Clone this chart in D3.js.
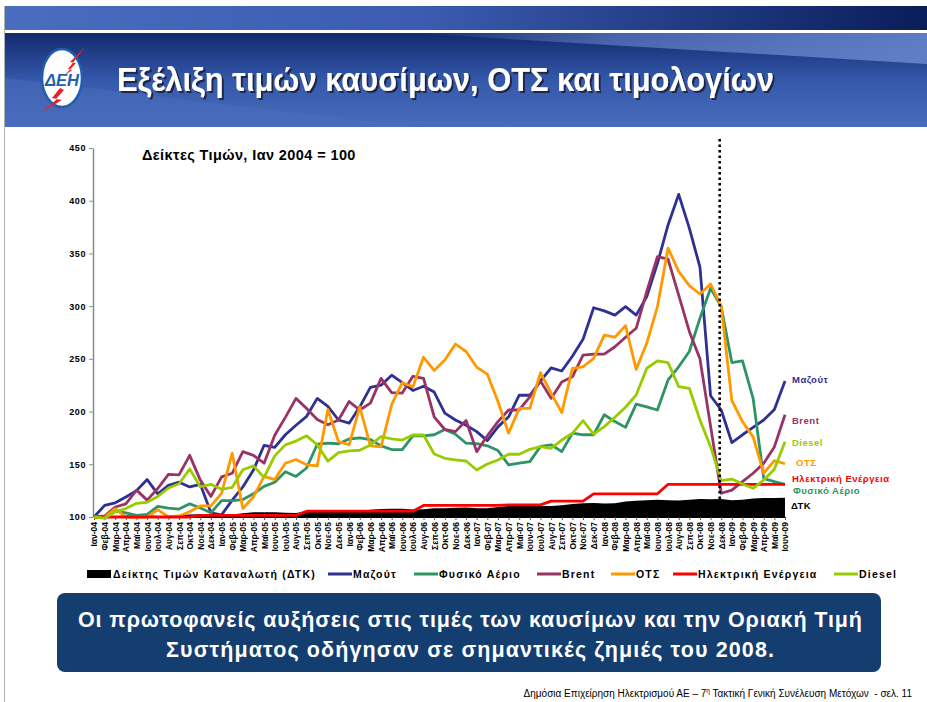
<!DOCTYPE html>
<html>
<head>
<meta charset="utf-8">
<script src="https://cdn.jsdelivr.net/npm/d3@7"></script>
<style>
    body { margin: 0; background: #fff; }
    svg { display: block; font-family: "Liberation Sans", Arial, sans-serif; }
</style>
</head>
<body>
<svg id="slide" width="927" height="702"></svg>
<script>
// month labels, Jan 2004 .. Jun 2009
const monthNames = ['Ιαν', 'Φεβ', 'Μαρ', 'Απρ', 'Μαϊ', 'Ιουν', 'Ιουλ', 'Αυγ', 'Σεπ', 'Οκτ', 'Νοε', 'Δεκ'];
const years = ['04', '05', '06', '07', '08', '09'];
const categories = years.flatMap(y => monthNames.map(m => `${m}-${y}`)).slice(0, 66);

const yTicks = [100, 150, 200, 250, 300, 350, 400, 450];

// price indices, Jan 2004 = 100
const cpi = [100, 100.2, 100.8, 101.5, 101.8, 101.6, 101, 101, 101.6, 102.4, 102.6, 102.8,
    102.3, 102.3, 103.6, 104.4, 104.6, 104.5, 104, 103.9, 105.1, 106, 106.1, 106.3,
    105.5, 105.6, 106.8, 107.7, 107.8, 107.9, 107.2, 107.3, 108.2, 108.4, 108.7, 109,
    108.3, 108.2, 109.4, 110.5, 110.8, 110.9, 110.5, 110.5, 111.1, 112.4, 113, 113.3,
    112.9, 113, 114.7, 115.4, 116, 116.3, 115.9, 115.7, 116.3, 117, 116.8, 117,
    115.8, 116.3, 117.5, 118.1, 118, 118.2];

const mazout = [100, 111, 113.5, 119, 125, 135.5, 122, 130, 133, 128.5, 131, 104,
    102, 116, 128.5, 144.5, 168, 166, 178, 187, 195.5, 212.5, 205, 192,
    189, 204.5, 223, 225, 234.5, 227.5, 220, 224, 218.5, 198.5, 192, 187,
    181, 172.5, 185.5, 195, 215.5, 215.5, 229, 241.5, 238.5, 252.5, 268.5, 298.5,
    295.5, 291.5, 299.5, 291.5, 309, 340.5, 377, 406, 374, 337, 215, 201.5,
    170.5, 178, 185, 192, 202, 229];

const gas = [100, 100, 105.5, 104, 101.5, 102.5, 110, 108.5, 107.5, 112.5, 108.5, 104,
    115.5, 115.5, 116.5, 122, 129, 133, 143, 138.5, 146.5, 169, 170, 169.5,
    174, 175, 173.5, 167.5, 164, 164, 177, 177, 178, 183, 178.5, 170,
    169.5, 167.5, 163, 149.5, 151, 152.5, 167, 168.5, 162, 179.5, 178, 178,
    197, 190.5, 185, 207, 204.5, 201.5, 230, 242.5, 257, 288.5, 317, 299.5,
    246.5, 248, 212.5, 136.5, 133.5, 131];

const brent = [100, 101, 109.5, 112.5, 125.5, 116, 127, 140.5, 140, 158.5, 135, 119.5,
    138, 141.5, 162, 158.5, 151, 177.5, 194.5, 212.5, 203, 192.5, 187.5, 192,
    209.5, 201.5, 208, 231.5, 218, 217.5, 233.5, 231.5, 195, 183, 181, 191.5,
    162, 177, 190.5, 201.5, 201.5, 214, 229, 212.5, 228, 233, 253.5, 254.5,
    254.5, 261.5, 270.5, 279, 314, 347, 344.5, 310.5, 276, 250, 186, 122.5,
    125.5, 133.5, 141.5, 151, 166.5, 197];

const ots = [100, 100, 108, 100, 100, 100, 107, 100, 101, 105, 110.5, 110.5,
    122.5, 160.5, 108, 119, 138.5, 135.5, 151, 154.5, 149.5, 148.5, 202, 171.5,
    168.5, 204.5, 167.5, 166.5, 206.5, 227.5, 223.5, 251.5, 239, 249, 264, 257,
    242, 235.5, 209.5, 179.5, 203, 203, 237, 217.5, 199, 241, 242.5, 250.5,
    272.5, 270.5, 281.5, 240, 265, 299.5, 355, 333, 319.5, 311.5, 321, 300,
    210.5, 190.5, 176, 141.5, 153.5, 150.5];

const electricity = [100, 100, 100, 100, 100, 100, 100, 100, 100, 100, 101.5, 101.5,
    101.5, 101.5, 101.5, 101.5, 101.5, 101.5, 101.5, 101.5, 105.5, 105.5, 105.5, 105.5,
    105.5, 105.5, 105.5, 105.5, 105.5, 105.5, 105.5, 111, 111, 111, 111, 111,
    111, 111, 111, 111.5, 111.5, 111.5, 111.5, 115, 115, 115, 115, 122,
    122, 122, 122, 122, 122, 122, 131, 131, 131, 131, 131, 131,
    131, 131, 131, 131, 131, 131];

const diesel = [100, 99, 105, 108, 113, 114, 119.5, 127.5, 131.5, 145.5, 128.7, 131,
    126.3, 128, 144.8, 148.5, 137.5, 158, 168.4, 172, 177, 168.5, 153, 161,
    162.7, 163.3, 168.4, 176.3, 174.2, 173, 177.8, 177.8, 159.8, 155.7, 154.1, 153.1,
    144.6, 150.3, 154.1, 159.5, 159.5, 164.2, 166.7, 165.2, 173, 179.4, 191.4, 178.7,
    185.7, 194.6, 204.1, 215.7, 241.1, 248, 246.4, 223.6, 222.1, 192, 166.7, 134.5,
    136, 131.3, 127.2, 135.1, 145.3, 171.4];

const seriesNames = ['Μαζούτ', 'Φυσικό Αέριο', 'Brent', 'ΟΤΣ', 'Ηλεκτρική Ενέργεια', 'Diesel'];
const seriesValues = [mazout, gas, brent, ots, electricity, diesel];
const seriesColors = ['#2e3192', '#2e9466', '#993366', '#ff9900', '#ff0000', '#99cc00'];

// end-of-line labels: text, colour, value where the label sits
const endLabels = [
    ['Μαζούτ', '#2e3192', 229.8, 0],
    ['Brent', '#993366', 191, 0],
    ['Diesel', '#99cc00', 170.5, 0],
    ['ΟΤΣ', '#ff9900', 151.5, 4],
    ['Ηλεκτρική Ενέργεια', '#ff0000', 136.7, 0],
    ['Φυσικό Αέριο', '#2e9466', 125, 1],
    ['ΔΤΚ', '#000000', 110.7, -1]
];

const svg = d3.select('#slide');
const defs = svg.append('defs');

function gradient(id, stops, horizontal) {
    const g = defs.append('linearGradient').attr('id', id)
        .attr('x1', 0).attr('y1', 0)
        .attr('x2', horizontal ? 1 : 0).attr('y2', horizontal ? 0 : 1);
    stops.forEach(s => g.append('stop').attr('offset', s[0]).attr('stop-color', s[1])
        .attr('stop-opacity', s[2] === undefined ? 1 : s[2]));
}

gradient('topBand', [[0, '#4a6dc0'], [0.45, '#3b5cb0'], [1, '#0a1d5a']], true);
gradient('header', [[0, '#122a6e'], [0.5, '#3458aa'], [1, '#4a6cbc']], false);
gradient('wedge', [[0, '#7a98d8', 0], [0.4, '#6b8ad0', 0.6], [1, '#6585cc', 0.9]], true);

defs.append('filter').attr('id', 'shadow')
    .attr('x', '-5%').attr('y', '-20%').attr('width', '110%').attr('height', '150%')
    .append('feDropShadow')
    .attr('dx', 2).attr('dy', 2).attr('stdDeviation', 0.6)
    .attr('flood-color', '#1a1a2a').attr('flood-opacity', 0.8);

// ---- slide frame and header ----
svg.append('rect').attr('x', 5).attr('y', 6).attr('width', 922).attr('height', 24)
    .attr('fill', 'url(#topBand)');
svg.append('rect').attr('x', 5).attr('y', 33).attr('width', 922).attr('height', 94)
    .attr('fill', 'url(#header)');
svg.append('path').attr('d', 'M410,33 L927,33 L927,64 Z').attr('fill', 'url(#wedge)');
svg.append('path').attr('d', 'M5,78 L5,127 L420,127 Z').attr('fill', '#4b6dbe').attr('opacity', 0.5);
svg.append('line').attr('x1', 4.5).attr('x2', 4.5).attr('y1', 6).attr('y2', 702)
    .attr('stroke', '#b0b0b0').attr('stroke-width', 1);

// logo
const logo = svg.append('g');
logo.append('ellipse').attr('cx', 62).attr('cy', 78).attr('rx', 20).attr('ry', 29)
    .attr('fill', '#fff').attr('stroke', '#1f5fb0').attr('stroke-width', 2.5);
logo.append('path')
    .attr('d', 'M86,46 L70,62 L76,63 L64,76 L72,70 L68,69 Z M60,88 L52,98 L57,99 L42,112 L62,100 L56,99 L64,90 Z')
    .attr('fill', '#e8202a');
logo.append('text').attr('x', 62).attr('y', 86).attr('text-anchor', 'middle')
    .attr('font-size', 17).attr('font-weight', 'bold').attr('font-style', 'italic')
    .attr('fill', '#1f5fb0').attr('textLength', 34).attr('lengthAdjust', 'spacingAndGlyphs')
    .text('ΔΕΗ');

svg.append('text').attr('x', 117).attr('y', 91)
    .attr('font-size', 34).attr('font-weight', 'bold')
    .attr('fill', '#fff').attr('filter', 'url(#shadow)')
    .attr('textLength', 657).attr('lengthAdjust', 'spacingAndGlyphs')
    .text('Εξέλιξη τιμών καυσίμων, ΟΤΣ και τιμολογίων');

// ---- chart ----
const x = d3.scalePoint().domain(categories).range([94, 785]);
const y = d3.scaleLinear().domain([100, 450]).range([517, 148]);

const chart = svg.append('g');

chart.append('path')
    .datum(cpi)
    .attr('fill', '#000')
    .attr('d', d3.area()
        .x((d, i) => x(categories[i]))
        .y0(y(100))
        .y1(d => y(d)));

const yAxis = chart.append('g')
    .attr('transform', 'translate(93,0)')
    .call(d3.axisLeft(y).tickValues(yTicks).tickSize(4).tickPadding(3).tickSizeOuter(0));
yAxis.select('.domain').attr('stroke', '#8c8c8c').attr('stroke-width', 1.5);
yAxis.selectAll('.tick line').attr('stroke', '#8c8c8c');
yAxis.selectAll('text')
    .attr('font-size', 9).attr('font-weight', 'bold').attr('fill', '#000')
    .style('letter-spacing', '0.6px')
    .style('font-family', '"Liberation Sans", Arial, sans-serif');

const xAxis = chart.append('g')
    .attr('transform', 'translate(0,517)')
    .call(d3.axisBottom(x).tickSize(3).tickSizeOuter(0));
xAxis.select('.domain').attr('stroke', '#000');
xAxis.selectAll('.tick line').attr('stroke', '#555');
xAxis.selectAll('text')
    .attr('transform', 'rotate(-90)')
    .attr('x', -5).attr('y', 0).attr('dy', '0.35em')
    .style('text-anchor', 'end')
    .attr('font-size', 8.5).attr('font-weight', 'bold').attr('fill', '#000')
    .style('font-family', '"Liberation Sans", Arial, sans-serif');

const line = d3.line().x((d, i) => x(categories[i])).y(d => y(d));

chart.append('g').selectAll('path')
    .data(seriesValues)
    .enter()
    .append('path')
    .attr('fill', 'none')
    .attr('stroke', (d, i) => seriesColors[i])
    .attr('stroke-width', 2.8)
    .attr('stroke-linejoin', 'round')
    .attr('d', line);

// end of 2008 marker
const xDec = x('Δεκ-08') - 1.5;
chart.append('line')
    .attr('x1', xDec).attr('x2', xDec).attr('y1', 139).attr('y2', 517)
    .attr('stroke', '#000').attr('stroke-width', 2.6)
    .attr('stroke-dasharray', '2.5,3');

chart.append('text').attr('x', 142).attr('y', 160)
    .attr('font-size', 14.5).attr('font-weight', 'bold')
    .style('letter-spacing', '0.4px')
    .text('Δείκτες Τιμών, Ιαν 2004 = 100');

chart.append('g').selectAll('text')
    .data(endLabels)
    .enter()
    .append('text')
    .attr('x', d => 792 + d[3])
    .attr('y', d => y(d[2]))
    .attr('dy', '0.35em')
    .attr('font-size', 9.5).attr('font-weight', 'bold')
    .style('letter-spacing', '0.5px')
    .attr('fill', d => d[1])
    .text(d => d[0]);

// ---- legend ----
const legendY = 574;
const legendX = [87, 328, 414, 537, 611, 673, 834];
const legend = svg.append('g').attr('font-size', 10.5).attr('font-weight', 'bold')
    .style('letter-spacing', '1.2px');

legend.append('rect').attr('x', legendX[0]).attr('y', legendY - 4)
    .attr('width', 24).attr('height', 8).attr('fill', '#000');
legend.append('text').attr('x', legendX[0] + 26).attr('y', legendY).attr('dy', '0.35em')
    .text('Δείκτης Τιμών Καταναλωτή (ΔΤΚ)');

seriesNames.forEach((name, i) => {
    const lx = legendX[i + 1];
    legend.append('line').attr('x1', lx).attr('x2', lx + 24)
        .attr('y1', legendY).attr('y2', legendY)
        .attr('stroke', seriesColors[i]).attr('stroke-width', 3);
    legend.append('text').attr('x', lx + 25).attr('y', legendY).attr('dy', '0.35em')
        .text(name);
});

// ---- banner ----
svg.append('rect').attr('x', 57).attr('y', 593).attr('width', 824).attr('height', 79)
    .attr('rx', 8).attr('fill', '#143d70');
const bannerLines = [
    ['Οι πρωτοφανείς αυξήσεις στις τιμές των καυσίμων και την Οριακή Τιμή', 627, 784],
    ['Συστήματος οδήγησαν σε σημαντικές ζημιές του 2008.', 657, 608]
];
bannerLines.forEach(([t, by, w]) => {
    svg.append('text').attr('x', 470).attr('y', by).attr('text-anchor', 'middle')
        .attr('font-size', 21.5).attr('font-weight', 'bold').attr('fill', '#fff')
        .attr('textLength', w)
        .text(t);
});

// ---- footer ----
const footer = svg.append('text').attr('x', 912).attr('y', 697)
    .attr('text-anchor', 'end').attr('font-size', 10).attr('fill', '#000')
    .style('white-space', 'pre');
footer.append('tspan').text('Δημόσια Επιχείρηση Ηλεκτρισμού ΑΕ – 7');
footer.append('tspan').attr('font-size', 6.5).attr('dy', -4).text('η');
footer.append('tspan').attr('dy', 4).text(' Τακτική Γενική Συνέλευση Μετόχων  - σελ. 11');
</script>
</body>
</html>
